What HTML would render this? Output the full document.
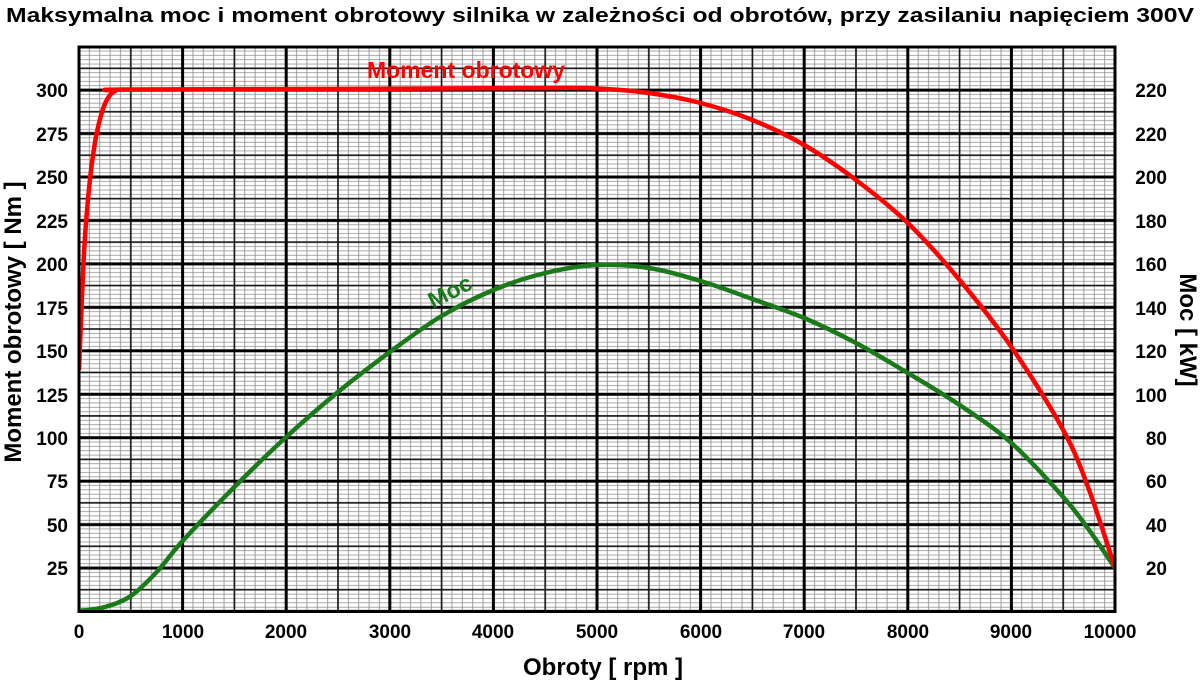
<!DOCTYPE html>
<html><head><meta charset="utf-8"><style>
html,body{margin:0;padding:0;background:#fff;}
svg{display:block;font-family:"Liberation Sans",Arial,sans-serif;font-weight:bold;}
</style></head><body>
<svg width="1200" height="682" viewBox="0 0 1200 682" xmlns="http://www.w3.org/2000/svg">
<defs>
<pattern id="minx" patternUnits="userSpaceOnUse" x="73.82" y="0" width="10.36" height="682"><line x1="5.18" y1="0" x2="5.18" y2="682" stroke="#888" stroke-width="0.8"/></pattern>
<pattern id="miny" patternUnits="userSpaceOnUse" x="0" y="609.33" width="1200" height="4.345"><line x1="0" y1="2.17" x2="1200" y2="2.17" stroke="#888" stroke-width="0.8"/></pattern>
<pattern id="medx" patternUnits="userSpaceOnUse" x="53.1" y="0" width="51.8" height="682"><line x1="25.9" y1="0" x2="25.9" y2="682" stroke="#111" stroke-width="1.6"/></pattern>
<pattern id="medy" patternUnits="userSpaceOnUse" x="0" y="600.64" width="1200" height="21.725"><line x1="0" y1="10.86" x2="1200" y2="10.86" stroke="#111" stroke-width="1.6"/></pattern>
<pattern id="majx" patternUnits="userSpaceOnUse" x="27.2" y="0" width="103.6" height="682"><line x1="51.8" y1="0" x2="51.8" y2="682" stroke="#000" stroke-width="3"/></pattern>
<pattern id="majy" patternUnits="userSpaceOnUse" x="0" y="589.78" width="1200" height="43.45"><line x1="0" y1="21.72" x2="1200" y2="21.72" stroke="#000" stroke-width="3"/></pattern>
<clipPath id="pc"><rect x="79" y="47" width="1036" height="564.5"/></clipPath>
</defs>
<text x="600" y="22" font-size="20" text-anchor="middle" textLength="1188" lengthAdjust="spacingAndGlyphs">Maksymalna moc i moment obrotowy silnika w zależności od obrotów, przy zasilaniu napięciem 300V</text>
<g clip-path="url(#pc)">
<rect x="79" y="47" width="1036" height="565" fill="url(#minx)"/>
<rect x="79" y="47" width="1036" height="565" fill="url(#miny)"/>
<rect x="79" y="47" width="1036" height="565" fill="url(#medx)"/>
<rect x="79" y="47" width="1036" height="565" fill="url(#medy)"/>
<rect x="79" y="47" width="1036" height="565" fill="url(#majx)"/>
<rect x="79" y="47" width="1036" height="565" fill="url(#majy)"/>
<path id="g" d="" fill="none" stroke="#1a7a1a" stroke-width="4.5" stroke-linejoin="round"/>
<path id="r" d="" fill="none" stroke="#f00" stroke-width="4.5" stroke-linejoin="round"/>
</g>
<rect x="79" y="47" width="1036" height="564.5" fill="none" stroke="#000" stroke-width="3"/>
<text x="466" y="78" font-size="23" fill="#f00" text-anchor="middle">Moment obrotowy</text>
<text x="0" y="0" font-size="23" fill="#1a7a1a" transform="translate(433,309) rotate(-27)">Moc</text>
<g font-size="19" text-anchor="end">
<text x="68" y="97">300</text><text x="68" y="141">275</text><text x="68" y="184">250</text><text x="68" y="228">225</text><text x="68" y="271">200</text><text x="68" y="315">175</text><text x="68" y="358">150</text><text x="68" y="402">125</text><text x="68" y="445">100</text><text x="68" y="488">75</text><text x="68" y="532">50</text><text x="68" y="575">25</text>
</g>
<g font-size="19" text-anchor="end">
<text x="1167" y="97">220</text><text x="1167" y="141">220</text><text x="1167" y="184">200</text><text x="1167" y="228">180</text><text x="1167" y="271">160</text><text x="1167" y="315">140</text><text x="1167" y="358">120</text><text x="1167" y="402">100</text><text x="1167" y="445">80</text><text x="1167" y="488">60</text><text x="1167" y="532">40</text><text x="1167" y="575">20</text>
</g>
<g font-size="19" text-anchor="middle">
<text x="79" y="638">0</text><text x="183" y="638">1000</text><text x="286" y="638">2000</text><text x="390" y="638">3000</text><text x="493" y="638">4000</text><text x="597" y="638">5000</text><text x="701" y="638">6000</text><text x="804" y="638">7000</text><text x="908" y="638">8000</text><text x="1011" y="638">9000</text><text x="1110" y="638">10000</text>
</g>
<text x="603" y="675" font-size="24" text-anchor="middle">Obroty [ rpm ]</text>
<text x="0" y="0" font-size="24" text-anchor="middle" transform="translate(21,322) rotate(-90)">Moment obrotowy [ Nm ]</text>
<text x="0" y="0" font-size="24" text-anchor="middle" transform="translate(1180,330) rotate(90)">Moc [ kW]</text>
</svg>
<script>
function cr(p){var d="M"+p[0][0]+","+p[0][1];for(var i=0;i<p.length-1;i++){var a=p[i-1]||p[i],b=p[i],c=p[i+1],e=p[i+2]||c;d+=" C"+(b[0]+(c[0]-a[0])/6)+","+(b[1]+(c[1]-a[1])/6)+" "+(c[0]-(e[0]-b[0])/6)+","+(c[1]-(e[1]-b[1])/6)+" "+c[0]+","+c[1];}return d;}
function X(r){return 79+r*0.1036;}
var R=[[0,370],[50,250],[100,185],[150,145],[200,120],[250,104],[300,95],[350,91],[420,89.5],[2500,89],[4500,88],[5000,88.5],[5500,93],[6000,103],[6500,120],[7000,145],[7500,180],[8000,223],[8500,280],[9000,347],[9500,430],[9750,490],[10000,568]];
var G=[[0,611],[250,607],[500,596],[750,572],[1000,541],[1500,487],[2000,437],[2500,392],[3000,352],[3500,316],[4000,290],[4500,273],[5000,265],[5500,268],[6000,281],[6500,299],[7000,318],[7500,343],[8000,373],[8500,405],[9000,443],[9500,497],[9750,530],[10000,568]];
document.getElementById("r").setAttribute("d",cr(R.map(function(q){return[X(q[0]),q[1]];})));
document.getElementById("g").setAttribute("d",cr(G.map(function(q){return[X(q[0]),q[1]];})));
</script>
</body></html>
